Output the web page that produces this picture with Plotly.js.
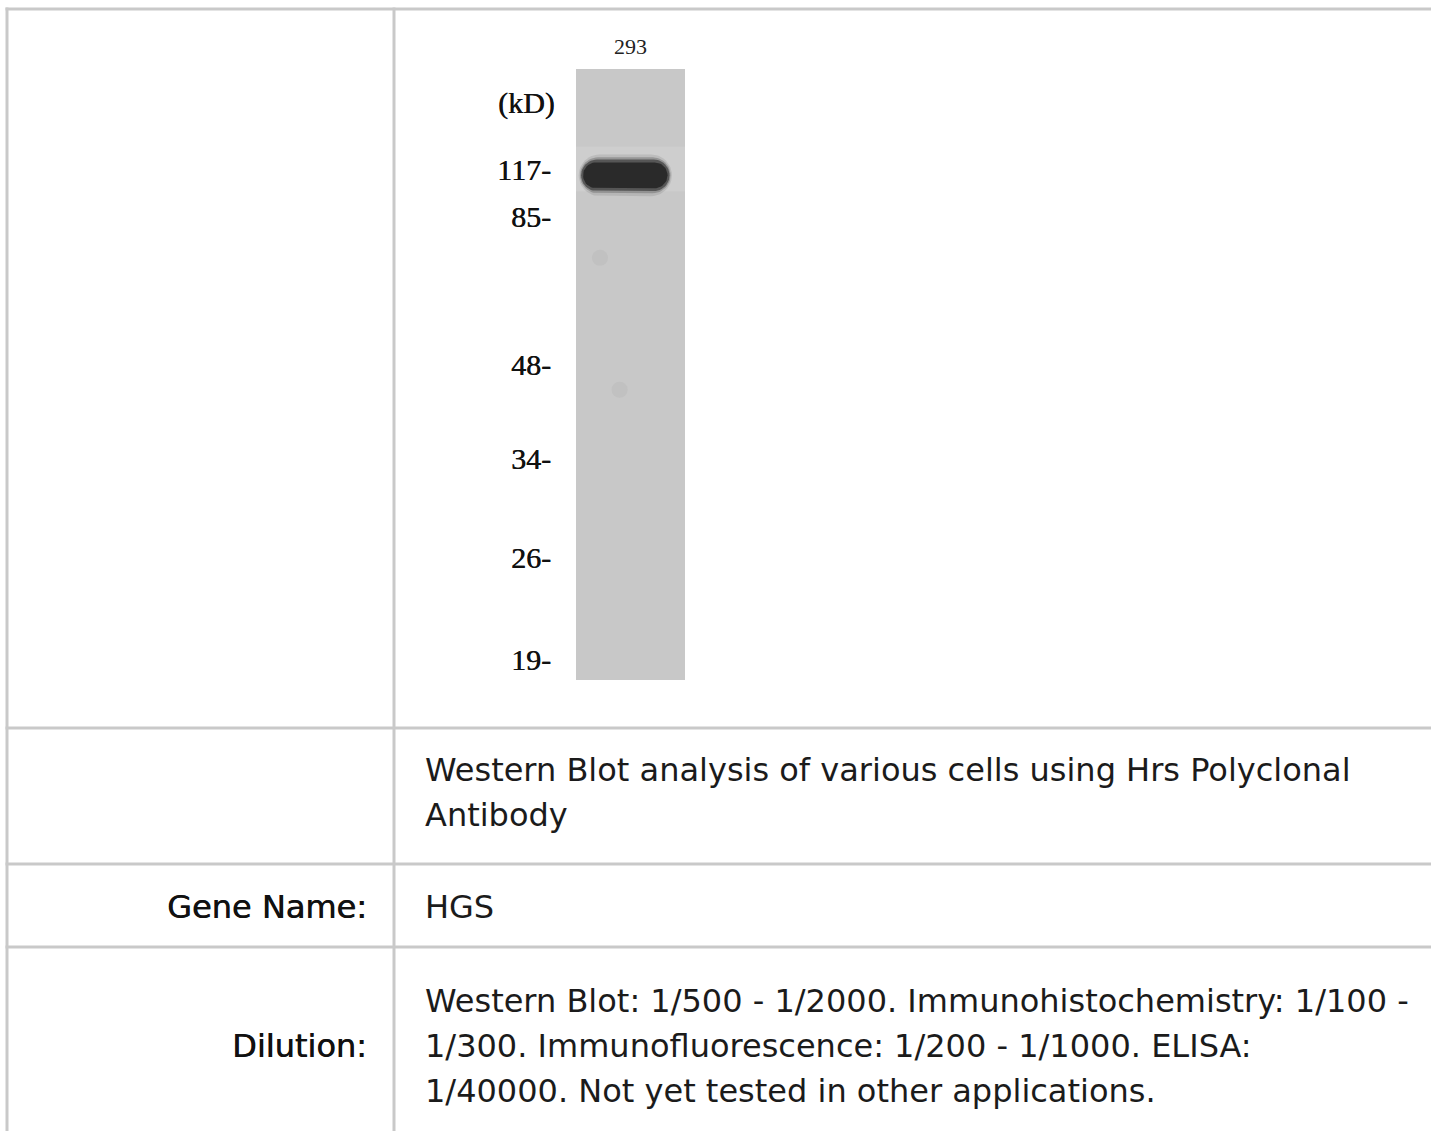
<!DOCTYPE html>
<html><head><meta charset="utf-8">
<script src="https://cdn.plot.ly/plotly-3.0.1.min.js"></script>
<style>html,body{margin:0;padding:0;background:#fff;overflow:hidden;} #chart{width:1431px;height:1131px;}</style>
</head><body><div id="chart"></div>
<script>
// ---- Blot data ----
const laneLabels = ['293'];
const markerKD = [117, 85, 48, 34, 26, 19];
// migration of each marker as fraction of lane length (0 = top of lane)
const markerMigration = [0.165, 0.242, 0.483, 0.638, 0.800, 0.967];
// detected band in lane "293"
const bandMigration = [0.172];
const bandLeft = [0.055];
const bandRight = [0.85];
const bandThickness = [0.047];
// faint background specks
const spotX = [0.22, 0.40];
const spotY = [0.309, 0.525];

// ---- Table text ----
const rowLabels = ['', '', 'Gene Name:', 'Dilution:'];
const rowText = [
  [],
  ['Western Blot analysis of various cells using Hrs Polyclonal', 'Antibody'],
  ['HGS'],
  ['Western Blot: 1/500 - 1/2000. Immunohistochemistry: 1/100 -',
   '1/300. Immunofluorescence: 1/200 - 1/1000. ELISA:',
   '1/40000. Not yet tested in other applications.']
];

// ---- Layout constants (pixels) ----
const W = 1431, H = 1131;
const px = v => v / W, py = v => 1 - v / H;
const lane = {x0: 576, x1: 685, y0: 69, y1: 680};
const rowTops = [9, 728, 864, 947];
const colX = [7, 394];
const textFirstY = [null, 770, 907, 1001];
const lineGap = 45;
const gridColor = '#c9c9c9';
const textFont = {family: 'DejaVu Sans', size: 32, color: '#1b1b1b'};

// band outline (stadium shape) in axis units
function stadium(c, l, r, t) {
  const hy = t / 2;
  const rx = hy * (lane.y1 - lane.y0) / (lane.x1 - lane.x0);
  const xs = [], ys = [];
  const n = 24;
  for (let i = 0; i <= n; i++) { const a = -Math.PI / 2 + Math.PI * i / n; xs.push(r - rx + rx * Math.cos(a)); ys.push(c + hy * Math.sin(a)); }
  for (let i = 0; i <= n; i++) { const a = Math.PI / 2 + Math.PI * i / n; xs.push(l + rx + rx * Math.cos(a)); ys.push(c + hy * Math.sin(a)); }
  xs.push(xs[0]); ys.push(ys[0]);
  return {xs, ys};
}

const traces = [];
const bandLayers = [
  {grow: 1.45, dx: 0.03, color: 'rgba(60,60,60,0.12)'},
  {grow: 1.25, dx: 0.018, color: 'rgba(50,50,50,0.28)'},
  {grow: 1.1, dx: 0.008, color: 'rgba(45,45,45,0.6)'},
  {grow: 0.9, dx: -0.01, color: '#2a2a2a'}
];
bandMigration.forEach((m, i) => {
  bandLayers.forEach(L => {
    const s = stadium(m + 0.002, bandLeft[i] - L.dx, bandRight[i] + L.dx, bandThickness[i] * L.grow);
    traces.push({x: s.xs, y: s.ys, type: 'scatter', mode: 'lines', fill: 'toself',
      fillcolor: L.color, line: {width: 0, color: 'rgba(0,0,0,0)'}, hoverinfo: 'skip', showlegend: false});
  });
});
traces.push({x: spotX, y: spotY, type: 'scatter', mode: 'markers',
  marker: {size: 16, color: 'rgba(170,170,170,0.22)'}, hoverinfo: 'skip', showlegend: false});

const shapes = [];
// lighter strip around the band
bandMigration.forEach((m, i) => {
  shapes.push({type: 'rect', xref: 'x', yref: 'y', x0: 0, x1: 1, y0: m - bandThickness[i] * 0.95, y1: m + bandThickness[i] * 0.6,
    fillcolor: '#cecece', line: {width: 0}, layer: 'below'});
});
// table grid
const gl = (x0, y0, x1, y1) => ({type: 'line', xref: 'paper', yref: 'paper', x0: px(x0), y0: py(y0), x1: px(x1), y1: py(y1), line: {color: gridColor, width: 3}});
rowTops.forEach(y => shapes.push(gl(5.5, y, W, y)));
colX.forEach(x => shapes.push(gl(x, rowTops[0] - 1.5, x, H)));

const serif = {family: 'Liberation Serif', size: 30, color: '#111', shadow: '0.4px 0 0 #111'};
const annotations = [];
annotations.push({xref: 'paper', yref: 'paper', x: px(557), y: py(103), xanchor: 'right', yanchor: 'middle',
  text: '(kD)', showarrow: false, font: serif});
rowText.forEach((lines, r) => {
  lines.forEach((t, k) => {
    annotations.push({xref: 'paper', yref: 'paper', x: px(423), y: py(textFirstY[r] + k * lineGap), xanchor: 'left', yanchor: 'middle',
      text: t, showarrow: false, font: textFont});
  });
  if (rowLabels[r]) {
    const mid = textFirstY[r] + (lines.length - 1) * lineGap / 2;
    annotations.push({xref: 'paper', yref: 'paper', x: px(369), y: py(mid), xanchor: 'right', yanchor: 'middle',
      text: rowLabels[r], showarrow: false, font: Object.assign({}, textFont, {color: '#111', shadow: '0.6px 0 0 #111'})});
  }
});

const layout = {
  width: W, height: H, margin: {l: 0, r: 0, t: 0, b: 0, pad: 0},
  paper_bgcolor: '#ffffff', plot_bgcolor: '#c8c8c8', showlegend: false,
  xaxis: {domain: [px(lane.x0), px(lane.x1)], range: [0, 1], side: 'top', tickvals: [0.5], ticktext: laneLabels,
    tickfont: {family: 'Liberation Serif', size: 22, color: '#222'}, ticks: 'outside', ticklen: 5, tickcolor: 'rgba(0,0,0,0)',
    showgrid: false, zeroline: false, showline: false, fixedrange: true},
  yaxis: {domain: [py(lane.y1), py(lane.y0)], range: [1, 0], tickvals: markerMigration, ticktext: markerKD.map(v => v + '-'),
    tickfont: serif, ticks: 'outside', ticklen: 18, tickcolor: 'rgba(0,0,0,0)',
    showgrid: false, zeroline: false, showline: false, fixedrange: true},
  shapes, annotations
};
Plotly.newPlot('chart', traces, layout, {displayModeBar: false, staticPlot: true});
</script>
</body></html>
